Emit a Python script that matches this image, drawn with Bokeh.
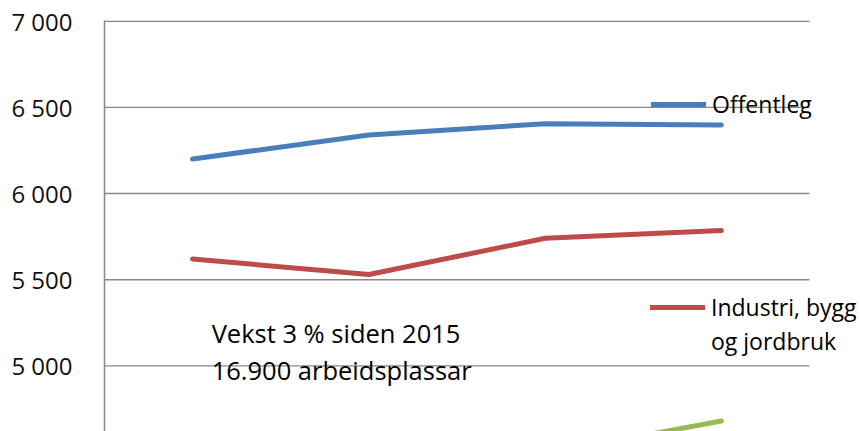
import numpy as np
from bokeh.plotting import figure
from bokeh.models import Range1d, FixedTicker, Legend, LegendItem, ColumnDataSource
from bokeh.core.properties import value
from bokeh.embed import file_html
from bokeh.resources import INLINE

# ---- data ----
years = ["2015", "2016", "2017", "2018"]
offentleg = [6200, 6340, 6405, 6398]
industri = [5620, 5530, 5740, 5785]
privat = [np.nan, np.nan, 4490, 4680]
y_ticks = [5000, 5500, 6000, 6500, 7000]
y_tick_labels = ["5 000", "5 500", "6 000", "6 500", "7 000"]
label_offentleg = "Offentleg"
label_industri = ["Industri, bygg", "og jordbruk"]
note = "Vekst 3 % siden 2015\n16.900 arbeidsplassar"

FONT = "Open Sans"
BLUE = "#4a7ebb"
RED = "#be4b48"
GREEN = "#98b954"
GRID = "#888888"

# category slots: one unit per year, centred at i + 0.5
xpos = [i + 0.5 for i in range(len(years))]
src = ColumnDataSource(dict(year=years, x=xpos, off=offentleg, ind=industri, pri=privat))

W, H = 860, 431
LEFT, TOP = 104, 20
CAT_AREA = 705  # pixel width taken by the four year slots
p = figure(width=W, height=H,
           x_range=Range1d(0, len(years) * (W - LEFT) / CAT_AREA),
           y_range=Range1d(4619, 7004),
           output_backend="svg", toolbar_location=None,
           x_axis_location=None,
           min_border_left=LEFT, min_border_right=0,
           min_border_top=TOP, min_border_bottom=0)
p.outline_line_color = None
p.xgrid.visible = False
p.ygrid.visible = False

# horizontal gridlines spanning the year slots only
p.segment(x0=[0] * len(y_ticks), x1=[len(years)] * len(y_ticks),
          y0=y_ticks, y1=y_ticks, line_color=GRID, line_width=1.4)

ax = p.yaxis[0]
ax.ticker = FixedTicker(ticks=y_ticks)
ax.major_label_overrides = {t: l for t, l in zip(y_ticks, y_tick_labels)}
ax.major_tick_line_color = None
ax.minor_tick_line_color = None
ax.major_tick_out = 0
ax.major_tick_in = 0
ax.major_label_standoff = 32
ax.axis_line_color = GRID
ax.axis_line_width = 1.5
ax.major_label_text_font = FONT
ax.major_label_text_font_size = "24px"
ax.major_label_text_color = "#111111"

r_off = p.line("x", "off", source=src, line_color=BLUE, line_width=5, line_cap="round", line_join="round")
r_ind = p.line("x", "ind", source=src, line_color=RED, line_width=5, line_cap="round", line_join="round")
r_pri = p.line("x", "pri", source=src, line_color=GREEN, line_width=5, line_cap="round", line_join="round")
# invisible stand-in so the second line of the red legend label sits under the first
r_blank = p.line(x=[], y=[], line_alpha=0)

p.text(x=[xpos[0]], y=[5288], text=[note], x_offset=19,
       text_baseline="top", text_align="left",
       text_font=value(FONT), text_font_size="25.5px",
       text_line_height=1.08, text_color="#000000")

def make_legend(items, loc):
    return Legend(items=items, location=loc, orientation="vertical",
                  glyph_width=55, glyph_height=34, label_height=34,
                  label_standoff=6, padding=0, margin=0, spacing=0,
                  border_line_color=None, background_fill_alpha=0,
                  label_text_font=FONT, label_text_font_size="23px",
                  label_text_color="#000000")

p.add_layout(make_legend([LegendItem(label=label_offentleg, renderers=[r_off])], (547, 310)))
p.add_layout(make_legend([LegendItem(label=label_industri[0], renderers=[r_ind]),
                          LegendItem(label=label_industri[1], renderers=[r_blank])], (546, 73)))

open("out.html", "w").write(file_html(p, INLINE))
